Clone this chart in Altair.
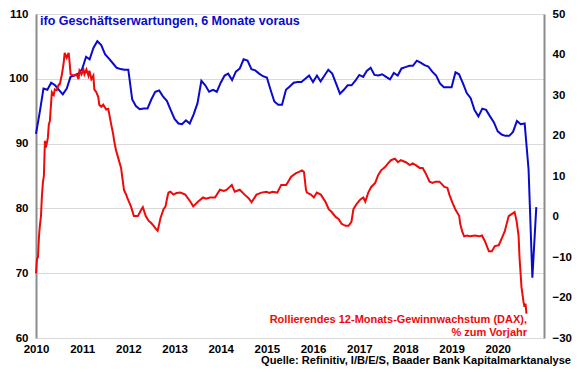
import altair as alt
import pandas as pd

# ifo business expectations, shifted 6 months ahead (monthly, Jan 2010 .. Nov 2020)
ifo_values = [
    91.5, 95.0, 98.5, 98.3, 99.4, 99.0, 98.3, 97.6, 98.5, 100.3,
    100.5, 100.8, 101.5, 103.4, 103.0, 104.8, 105.8, 105.2, 103.8, 103.1,
    102.4, 101.7, 101.5, 101.4, 101.4, 96.8, 95.8, 95.3, 95.4, 95.4,
    96.8, 98.0, 98.2, 97.3, 96.6, 95.2, 93.8, 93.1, 93.0, 93.6,
    93.1, 94.5, 96.2, 99.7, 99.0, 98.0, 98.3, 98.0, 99.4, 100.5,
    100.8, 99.8, 101.1, 101.6, 103.0, 102.8, 101.5, 101.3, 100.8, 100.4,
    100.2, 98.2, 96.5, 96.0, 96.0, 98.3, 98.8, 99.4, 99.5, 99.5,
    100.0, 100.5, 99.5, 100.5, 99.6, 100.5, 101.4, 100.8, 99.3, 97.7,
    98.3, 99.0, 99.0, 99.7, 100.6, 100.3, 101.2, 101.7, 100.6, 100.5,
    100.7, 100.3, 99.9, 100.9, 100.5, 101.6, 101.8, 102.0, 102.0, 102.8,
    102.5, 102.1, 101.9, 101.1, 100.5, 99.3, 98.7, 98.7, 98.7, 101.0,
    100.7, 99.3, 97.8, 97.0, 95.2, 94.2, 95.4, 95.2, 94.2, 93.3,
    91.9, 91.4, 91.2, 91.2, 91.8, 93.5, 93.0, 93.1, 86.0, 69.3,
    80.2,
]

# Rolling 12-month earnings growth (DAX), % y/y — dates as decimal years
red_years = [
    2010.000, 2010.021, 2010.043, 2010.064, 2010.086, 2010.107, 2010.128, 2010.150, 2010.171, 2010.193,
    2010.214, 2010.257, 2010.278, 2010.300, 2010.343, 2010.385, 2010.407, 2010.450, 2010.492, 2010.514,
    2010.557, 2010.600, 2010.621, 2010.664, 2010.707, 2010.728, 2010.749, 2010.814, 2010.878, 2010.921,
    2010.942, 2010.985, 2011.028, 2011.049, 2011.092, 2011.135, 2011.156, 2011.199, 2011.242, 2011.263,
    2011.306, 2011.349, 2011.370, 2011.413, 2011.456, 2011.520, 2011.563, 2011.585, 2011.627, 2011.670,
    2011.692, 2011.734, 2011.777, 2011.842, 2011.906, 2011.949, 2011.991, 2012.056, 2012.120, 2012.206,
    2012.270, 2012.313, 2012.377, 2012.441, 2012.484, 2012.548, 2012.591, 2012.634, 2012.655, 2012.698,
    2012.762, 2012.805, 2012.848, 2012.869, 2012.912, 2012.976, 2013.041, 2013.126, 2013.233, 2013.340,
    2013.405, 2013.512, 2013.619, 2013.683, 2013.769, 2013.876, 2013.983, 2014.069, 2014.133, 2014.240,
    2014.304, 2014.411, 2014.518, 2014.604, 2014.668, 2014.775, 2014.882, 2014.989, 2015.054, 2015.118,
    2015.225, 2015.310, 2015.418, 2015.525, 2015.632, 2015.696, 2015.760, 2015.803, 2015.846, 2015.867,
    2015.953, 2016.017, 2016.081, 2016.167, 2016.274, 2016.338, 2016.403, 2016.488, 2016.552, 2016.617,
    2016.702, 2016.767, 2016.831, 2016.874, 2016.938, 2017.024, 2017.088, 2017.131, 2017.195, 2017.259,
    2017.345, 2017.409, 2017.473, 2017.559, 2017.623, 2017.687, 2017.773, 2017.837, 2017.901, 2018.009,
    2018.094, 2018.158, 2018.223, 2018.308, 2018.373, 2018.437, 2018.522, 2018.587, 2018.651, 2018.737,
    2018.844, 2018.908, 2018.951, 2019.015, 2019.079, 2019.165, 2019.186, 2019.229, 2019.272, 2019.336,
    2019.400, 2019.507, 2019.593, 2019.657, 2019.722, 2019.807, 2019.872, 2019.936, 2020.021, 2020.086,
    2020.150, 2020.236, 2020.300, 2020.364, 2020.407, 2020.450, 2020.471, 2020.514, 2020.557, 2020.578,
    2020.600, 2020.621,
]
red_values = [
    -14.0, -10.5, -10.0, -5.0, -2.0, 0.0, 5.0, 8.5, 10.0, 18.7,
    17.0, 19.4, 22.8, 23.5, 30.7, 30.0, 31.4, 31.2, 32.6, 32.6,
    34.8, 38.0, 40.4, 39.2, 40.4, 38.0, 35.1, 34.8, 35.1, 33.9,
    36.0, 35.1, 36.3, 35.1, 36.3, 34.8, 36.0, 33.9, 34.8, 31.4,
    30.7, 29.5, 27.6, 27.1, 27.6, 26.4, 26.6, 25.4, 22.8, 20.4,
    18.7, 16.3, 14.6, 12.0, 6.5, 5.5, 4.2, 2.5, 0.1, 0.1,
    1.5, 2.3, 0.1, -1.1, -1.5, -2.3, -3.0, -3.5, -2.5, -0.3,
    1.8, 2.5, 5.0, 5.9, 6.1, 5.4, 5.8, 5.9, 5.4, 3.7,
    2.5, 3.7, 4.7, 4.4, 4.7, 4.7, 6.6, 6.3, 6.6, 7.8,
    6.1, 6.6, 5.4, 4.5, 3.5, 5.4, 5.9, 6.1, 5.8, 6.1,
    5.9, 7.8, 7.8, 9.8, 10.7, 11.0, 11.4, 11.0, 6.6, 5.9,
    5.4, 4.7, 5.9, 5.4, 3.5, 1.8, 1.1, -0.1, -0.6, -1.8,
    -2.3, -2.3, -1.3, 1.8, 3.0, 4.2, 4.7, 3.7, 5.9, 7.3,
    8.3, 10.2, 11.4, 12.2, 13.1, 13.9, 14.3, 13.4, 13.9, 13.4,
    12.7, 13.1, 12.7, 12.0, 12.0, 10.7, 8.6, 8.3, 8.6, 8.6,
    7.3, 7.1, 5.4, 3.5, 1.8, 0.1, -1.8, -3.7, -4.9, -4.7,
    -4.9, -4.7, -4.9, -4.7, -6.1, -8.6, -8.6, -7.3, -7.1, -5.4,
    -3.7, 0.1, 0.6, 1.1, -1.1, -4.7, -10.2, -17.5, -21.1, -22.3,
    -21.5, -24.0,
]

year_ticks = list(range(2010, 2021))
left_ticks = [60, 70, 80, 90, 100, 110]
right_ticks = [-30, -20, -10, 0, 10, 20, 30, 40, 50]

title_text = "ifo Geschäftserwartungen, 6 Monate voraus"
red_label = ["Rollierendes 12-Monats-Gewinnwachstum (DAX),", "% zum Vorjahr"]
source_text = "Quelle: Refinitiv, I/B/E/S, Baader Bank Kapitalmarktanalyse"

FONT = "Liberation Sans"
BLUE = "#0A0ACC"
RED = "#EE0A0A"

ifo_df = pd.DataFrame({
    "date": pd.date_range("2010-01-01", periods=len(ifo_values), freq="MS"),
    "ifo": ifo_values,
})
start = pd.Timestamp("2010-01-01")
red_df = pd.DataFrame({
    "date": [start + pd.Timedelta(days=(y - 2010) * 365.25) for y in red_years],
    "growth": red_values,
})

x_enc = alt.X(
    "date:T",
    scale=alt.Scale(domain=[alt.DateTime(year=2010, month=1, date=1),
                            alt.DateTime(year=2021, month=1, date=1)]),
    axis=alt.Axis(
        values=[alt.DateTime(year=y, month=1, date=1) for y in year_ticks],
        format="%Y", title=None, grid=False, ticks=False, domain=False,
        labelFont=FONT, labelFontSize=11.5, labelFontWeight="bold", labelColor="black",
        labelPadding=5, labelFlush=False,
    ),
)

blue = alt.Chart(ifo_df).mark_line(color=BLUE, strokeWidth=2).encode(
    x=x_enc,
    y=alt.Y(
        "ifo:Q",
        scale=alt.Scale(domain=[60, 110], nice=False, zero=False),
        axis=alt.Axis(
            orient="left", values=left_ticks, title=None, grid=True,
            gridColor="#DADADA", gridWidth=1, ticks=False,
            domainColor="#8C8C8C", domainWidth=2,
            labelFont=FONT, labelFontSize=11.5, labelFontWeight="bold", labelColor="black",
            labelPadding=8,
        ),
    ),
)

red = alt.Chart(red_df).mark_line(color=RED, strokeWidth=2).encode(
    x=x_enc,
    y=alt.Y(
        "growth:Q",
        scale=alt.Scale(domain=[-30, 50], nice=False, zero=False),
        axis=alt.Axis(
            orient="right", values=right_ticks, title=None, grid=False, ticks=False,
            domainColor="#8C8C8C", domainWidth=2,
            labelFont=FONT, labelFontSize=11.5, labelFontWeight="bold", labelColor="black",
            labelPadding=8,
        ),
    ),
)

title_mark = alt.Chart(pd.DataFrame({"t": [title_text]})).mark_text(
    font=FONT, fontSize=12.5, fontWeight="bold", color=BLUE, align="left", baseline="middle"
).encode(text="t:N", x=alt.value(4), y=alt.value(7))

red_text = alt.Chart(pd.DataFrame({"t": [0]})).mark_text(
    font=FONT, fontSize=11, fontWeight="bold", color=RED, align="right",
    baseline="middle", lineHeight=12.5
).encode(text=alt.value(red_label), x=alt.value(491), y=alt.value(306))

source_mark = alt.Chart(pd.DataFrame({"t": [source_text]})).mark_text(
    font=FONT, fontSize=11.1, fontWeight="bold", color="black", align="right", baseline="middle"
).encode(text="t:N", x=alt.value(535), y=alt.value(347))

chart = alt.layer(blue, red, title_mark, red_text, source_mark).resolve_scale(
    y="independent"
).properties(
    width=508, height=324,
    autosize=alt.AutoSizeParams(type="none"),
    padding={"left": 28, "top": 6, "right": 28, "bottom": 29},
    background="white",
).configure_view(stroke=None)

chart.save("out.html", embed_options={"renderer": "svg", "actions": False})
